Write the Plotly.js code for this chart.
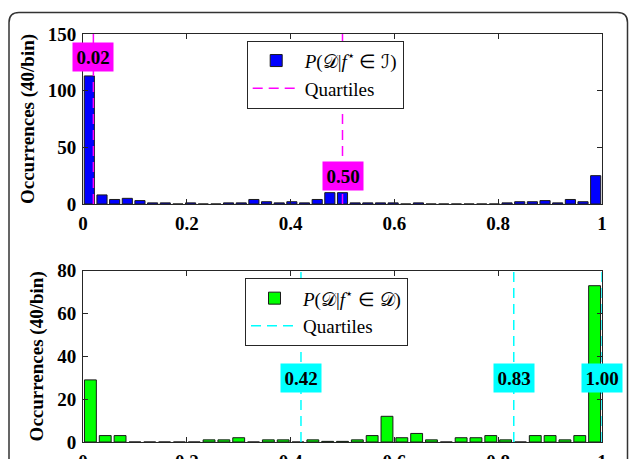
<!DOCTYPE html>
<html><head><meta charset="utf-8">
<script src="https://cdn.plot.ly/plotly-3.0.1.min.js"></script>
<style>html,body{margin:0;padding:0;background:#fff}#chart{width:629px;height:459px}</style>
</head><body><div id="chart"></div>
<script>
// ---- data ----
const topCounts = [113, 8, 4, 5, 3, 1, 1, 0, 1, 0, 0, 1, 1, 4, 2, 1, 2, 1, 4, 10, 10, 1, 1, 1, 1, 0, 1, 0, 0, 0, 0, 0, 0, 1, 2, 2, 3, 1, 4, 2, 25];
const bottomCounts = [29, 3, 3, 0, 0, 0, 0, 0, 1, 1, 2, 0, 1, 1, 0, 1, 0.3, 0.3, 1, 3, 12, 2, 4, 1, 0, 2, 2, 3, 1, 0, 3, 3, 1, 3, 73];
const topQuartiles = [0.02, 0.50];
const topQuartileLabels = ['0.02', '0.50'];
const bottomQuartiles = [0.42, 0.83, 1.00];
const bottomQuartileLabels = ['0.42', '0.83', '1.00'];
const xTickVals = [0, 0.2, 0.4, 0.6, 0.8, 1];
const xTickText = ['0', '0.2', '0.4', '0.6', '0.8', '1'];
const topYTicks = [0, 50, 100, 150];
const bottomYTicks = [0, 20, 40, 60, 80];
const topSeriesName = '<i>P</i>(𝒟|<i>f</i><sup>⋆</sup> ∈ ℐ)';
const bottomSeriesName = '<i>P</i>(𝒟|<i>f</i><sup>⋆</sup> ∈ 𝒟)';
const quartileName = 'Quartiles';
const yTitle = 'Occurrences (40/bin)';

// ---- layout constants ----
const topYMax = 150, bottomYMax = 80;
const topLabelY = [130, 25];
const bottomLabelY = [30, 30, 30];
const FONT = '"Liberation Serif", "Times New Roman", Times, serif';

function centers(n) { return Array.from({length: n}, (_, k) => (k + 0.5) / n); }
function vlines(qs, ymax) {
  const x = [], y = [];
  qs.forEach(q => { x.push(q, q, null); y.push(0, ymax, null); });
  return {x, y};
}

const tl = vlines(topQuartiles, topYMax);
const bl = vlines(bottomQuartiles, bottomYMax);

const traces = [
  {type: 'bar', x: centers(topCounts.length), y: topCounts, width: 0.8 / topCounts.length,
   marker: {color: '#0000ff', line: {color: '#1a1a1a', width: 1}}, name: topSeriesName,
   xaxis: 'x', yaxis: 'y', legend: 'legend', hoverinfo: 'skip'},
  {type: 'scatter', mode: 'lines', x: tl.x, y: tl.y, name: quartileName,
   line: {color: '#ff00ff', width: 1.5, dash: '10px,6px'}, xaxis: 'x', yaxis: 'y', legend: 'legend'},
  {type: 'bar', x: centers(bottomCounts.length), y: bottomCounts, width: 0.8 / bottomCounts.length,
   marker: {color: '#00ff00', line: {color: '#1a1a1a', width: 1}}, name: bottomSeriesName,
   xaxis: 'x2', yaxis: 'y2', legend: 'legend2', hoverinfo: 'skip'},
  {type: 'scatter', mode: 'lines', x: bl.x, y: bl.y, name: quartileName,
   line: {color: '#00ffff', width: 1.5, dash: '10px,6px'}, xaxis: 'x2', yaxis: 'y2', legend: 'legend2'}
];

const tickFont = {family: FONT, size: 19, color: '#000', weight: 'bold'};
function xax(anchor) {
  return {anchor, domain: [0, 1], range: [0, 1], tickvals: xTickVals, ticktext: xTickText,
    ticks: 'inside', ticklen: 5, tickcolor: '#262626', showline: true, linecolor: '#262626',
    linewidth: 1, mirror: 'ticks', showgrid: false, zeroline: false, tickfont: tickFont,
    ticklabelstandoff: 2};
}
function yax(anchor, domain, max, ticks) {
  return {anchor, domain, range: [0, max], tickvals: ticks, ticks: 'inside', ticklen: 5,
    tickcolor: '#262626', showline: true, linecolor: '#262626', linewidth: 1, mirror: 'ticks',
    showgrid: false, zeroline: false, tickfont: tickFont, ticklabelstandoff: 2,
    title: {text: yTitle, font: {family: FONT, size: 19, color: '#000', weight: 'bold'}, standoff: 8}};
}

const W = 629, H = 459, ML = 83, MR = 27, MT = 34, MB = 17;
const PW = W - ML - MR, PH = H - MT - MB;
const px = p => (p - ML) / PW;
const py = p => (H - MB - p) / PH;

const annotations = [];
topQuartiles.forEach((q, i) => annotations.push({x: q, y: topLabelY[i], xref: 'x', yref: 'y',
  text: '<b>' + topQuartileLabels[i] + '</b>', showarrow: false, bgcolor: '#ff00ff',
  font: {family: FONT, size: 19, color: '#000'}, width: 40, height: 28, borderpad: 0}));
bottomQuartiles.forEach((q, i) => annotations.push({x: q, y: bottomLabelY[i], xref: 'x2', yref: 'y2',
  text: '<b>' + bottomQuartileLabels[i] + '</b>', showarrow: false, bgcolor: '#00ffff',
  font: {family: FONT, size: 19, color: '#000'}, width: 40, height: 28, borderpad: 0}));

const L = 9, T = 12.5, R = 627.5, B = 490, r = 10;
const framePath = `M ${px(L)},${py(B)} L ${px(L)},${py(T + r)} Q ${px(L)},${py(T)} ${px(L + r)},${py(T)} ` +
  `L ${px(R - r)},${py(T)} Q ${px(R)},${py(T)} ${px(R)},${py(T + r)} L ${px(R)},${py(B)}`;

const legendBase = {xanchor: 'left', yanchor: 'top', bgcolor: '#fff', bordercolor: '#262626',
  borderwidth: 1, font: {family: FONT, size: 19, color: '#000'}, itemwidth: 47, tracegroupgap: 0};

const layout = {
  width: W, height: H, margin: {l: ML, r: MR, t: MT, b: MB}, paper_bgcolor: '#fff', plot_bgcolor: '#fff',
  showlegend: true,
  xaxis: xax('y'), xaxis2: xax('y2'),
  yaxis: yax('x', [py(204), 1], topYMax, topYTicks),
  yaxis2: yax('x2', [0, py(270.7)], bottomYMax, bottomYTicks),
  legend: Object.assign({x: px(246.7), y: py(40.7)}, legendBase),
  legend2: Object.assign({x: px(245), y: py(278.3)}, legendBase),
  annotations,
  shapes: [{type: 'path', xref: 'paper', yref: 'paper', path: framePath,
    line: {color: '#333', width: 1.5}, fillcolor: 'rgba(0,0,0,0)'}]
};

Plotly.newPlot('chart', traces, layout, {displayModeBar: false, staticPlot: true});
</script>
</body></html>
